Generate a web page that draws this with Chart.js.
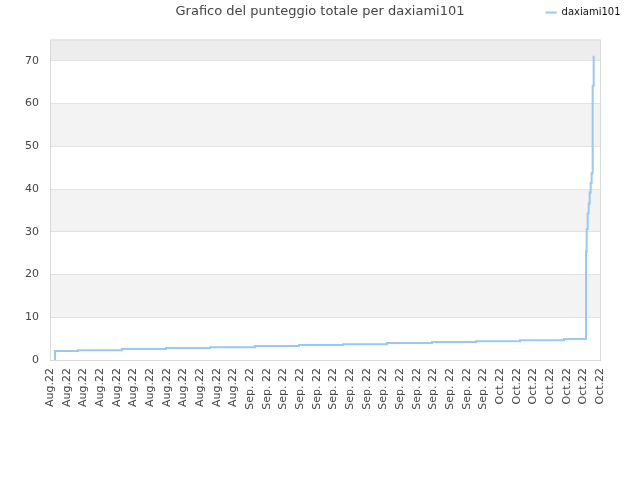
<!DOCTYPE html>
<html>
<head>
<meta charset="utf-8">
<script src="https://cdn.jsdelivr.net/npm/chart.js@4/dist/chart.umd.min.js"></script>
<style>
  html, body { margin: 0; padding: 0; background: #fff; }
</style>
</head>
<body>
<canvas id="score" width="640" height="480"></canvas>
<script>
// tick labels along the bottom, one per tick
const xLabels = [
  "Aug.22", "Aug.22", "Aug.22", "Aug.22", "Aug.22", "Aug.22",
  "Aug.22", "Aug.22", "Aug.22", "Aug.22", "Aug.22", "Aug.22",
  "Sep. 22", "Sep. 22", "Sep. 22", "Sep. 22", "Sep. 22", "Sep. 22",
  "Sep. 22", "Sep. 22", "Sep. 22", "Sep. 22", "Sep. 22", "Sep. 22",
  "Sep. 22", "Sep. 22", "Sep. 22",
  "Oct.22", "Oct.22", "Oct.22", "Oct.22", "Oct.22", "Oct.22", "Oct.22"
];

// when the score changed (in tick units) and the new total
const changeAt = [
  0.3, 0.3, 1.68, 4.32, 6.96, 9.6, 12.3, 14.94, 17.58, 20.22, 22.92,
  25.56, 28.2, 30.84,
  32.16, 32.16, 32.16, 32.16, 32.16,
  32.2, 32.26, 32.26, 32.32, 32.38, 32.44, 32.5,
  32.56, 32.56, 32.56, 32.62
];
const totals = [
  0, 2.1, 2.3, 2.55, 2.8, 3.0, 3.25, 3.5, 3.7, 3.95, 4.2,
  4.4, 4.65, 4.9,
  8, 11, 15, 23, 25.4,
  30.6, 33, 34.3, 36.6, 39.2, 41.4, 43.7,
  45, 57.2, 64.2, 71.2
];

const seriesName = "daxiami101";
const yMax = 75;
const yStep = 10;

const font = "'DejaVu Sans', sans-serif";

// grey / white bands behind the plot plus the frame around it
const plotBackground = {
  id: "plotBackground",
  beforeDraw(chart) {
    const { ctx, chartArea: a, scales: { y } } = chart;
    ctx.save();
    for (let v = 0; v < yMax; v += yStep) {
      const band = v / yStep;
      if (band % 2 === 0) continue;
      const top = y.getPixelForValue(Math.min(v + yStep, yMax));
      const bottom = y.getPixelForValue(v);
      ctx.fillStyle = v + yStep > yMax ? "#ededed" : "#f3f3f3";
      ctx.fillRect(a.left, top, a.right - a.left, bottom - top);
    }
    ctx.restore();
  },
  beforeDatasetsDraw(chart) {
    const { ctx, chartArea: a } = chart;
    ctx.save();
    ctx.strokeStyle = "#d9d9d9";
    ctx.lineWidth = 1;
    ctx.strokeRect(a.left + 0.5, a.top + 0.5, a.right - a.left, a.bottom - a.top);
    ctx.restore();
  }
};

new Chart(document.getElementById("score"), {
  type: "line",
  data: {
    datasets: [{
      label: seriesName,
      data: changeAt.map((x, i) => ({ x, y: totals[i] })),
      stepped: "before",
      borderColor: "#99c8f5",
      backgroundColor: "#99c8f5",
      borderWidth: 2,
      pointRadius: 0,
      pointHoverRadius: 0,
      pointStyle: "line",
      fill: false
    }]
  },
  options: {
    responsive: false,
    animation: false,
    devicePixelRatio: 1,
    layout: { padding: 0 },
    plugins: {
      title: {
        display: true,
        text: "Grafico del punteggio totale per daxiami101",
        color: "#444",
        font: { family: font, size: 13, weight: "normal" },
        padding: { top: 4, bottom: -31.6 }
      },
      legend: {
        display: true,
        position: "top",
        align: "end",
        labels: {
          color: "#111",
          font: { family: font, size: 10 },
          usePointStyle: true,
          pointStyleWidth: 11,
          padding: 19.5
        }
      },
      tooltip: { enabled: false }
    },
    scales: {
      x: {
        type: "linear",
        min: 0,
        max: xLabels.length - 1,
        grid: { display: false },
        border: { display: false },
        ticks: {
          stepSize: 1,
          autoSkip: false,
          maxRotation: 90,
          minRotation: 90,
          padding: 12,
          color: "#444",
          font: { family: font, size: 11 },
          callback: (v) => xLabels[v]
        },
        afterFit: (s) => { s.height = 120; }
      },
      y: {
        min: 0,
        max: yMax,
        grid: { color: "#e2e2e2", drawTicks: false },
        border: { display: false },
        ticks: {
          stepSize: yStep,
          includeBounds: false,
          padding: 11,
          color: "#444",
          font: { family: font, size: 11 }
        },
        afterFit: (s) => { s.width = 50; }
      },
      // empty margin on the right of the plot
      yRight: {
        position: "right",
        min: 0,
        max: yMax,
        grid: { display: false },
        border: { display: false },
        ticks: { display: false },
        afterFit: (s) => { s.width = 40; }
      }
    }
  },
  plugins: [plotBackground]
});
</script>
</body>
</html>
